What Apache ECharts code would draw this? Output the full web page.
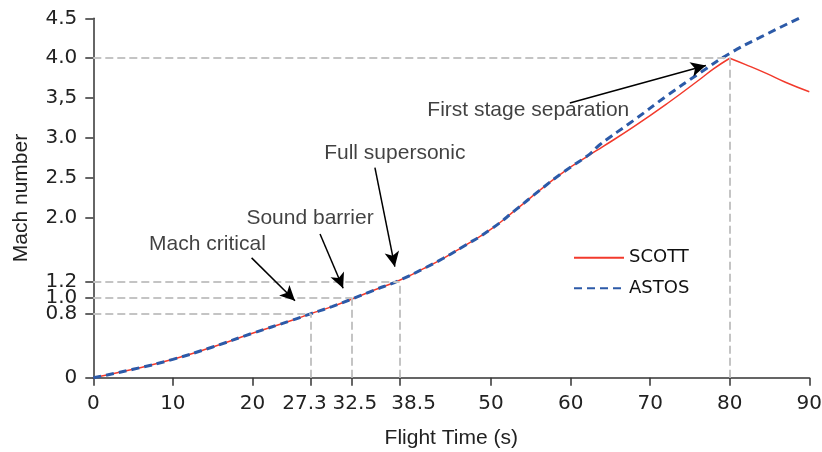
<!DOCTYPE html>
<html>
<head>
<meta charset="utf-8">
<script src="https://cdn.jsdelivr.net/npm/echarts@6/dist/echarts.min.js"></script>
<style>html,body{margin:0;padding:0;background:#fff;}#c{width:822px;height:452px;}</style>
</head>
<body>
<div id="c"></div>
<script>
// ---- data ----
const timeTicks = [0, 10, 20, 27.3, 32.5, 38.5, 50, 60, 70, 80, 90];
const machTicks = [0, 0.8, 1.0, 1.2, 2.0, 2.5, 3.0, 3.5, 4.0, 4.5];
const machTickLabels = ['0', '0.8', '1.0', '1.2', '2.0', '2.5', '3.0', '3,5', '4.0', '4.5'];

const scottTime = [0, 5, 10, 15, 20, 25, 27.3, 30, 32.5, 35, 38.5, 41.5, 44, 46.3, 50, 53.2, 56.1, 59.1, 62.4, 64, 67.9, 72.1, 76.3, 78, 80];
const scottMach = [0, 0.105, 0.23, 0.385, 0.556, 0.72, 0.8, 0.89, 0.985, 1.085, 1.22, 1.365, 1.495, 1.63, 1.86, 2.11, 2.345, 2.575, 2.79, 2.89, 3.14, 3.43, 3.74, 3.87, 4.0];
const scottAfterTime = [80, 82, 84.6, 87, 90];
const scottAfterMach = [4.0, 3.92, 3.81, 3.70, 3.58];

const astosTime = [0, 5, 10, 15, 20, 25, 27.3, 30, 32.5, 35, 38.5, 41.5, 44, 46.3, 50, 53.2, 56.1, 59.1, 62.4, 63.7, 67.9, 72.1, 76.3, 80, 83.8, 88.7];
const astosMach = [0, 0.105, 0.23, 0.385, 0.556, 0.72, 0.8, 0.89, 0.985, 1.085, 1.22, 1.365, 1.495, 1.63, 1.86, 2.11, 2.345, 2.575, 2.8, 2.92, 3.22, 3.53, 3.82, 4.06, 4.26, 4.5];

const guideTime = [27.3, 32.5, 38.5, 80];
const guideMach = [0.8, 1.0, 1.2, 4.0];

const noteText = ['Mach critical', 'Sound barrier', 'Full supersonic', 'First stage separation'];
const noteTime = [14.35, 27.24, 37.9, 54.68];
const noteMach = [1.67, 1.995, 2.816, 3.35];
const arrowFromTime = [19.9, 28.5, 35.4, 59.9];
const arrowFromMach = [1.50, 1.80, 2.63, 3.44];
const arrowToTime = [25.35, 31.4, 37.9, 77.0];
const arrowToMach = [0.964, 1.12, 1.39, 3.91];

// ---- chart ----
const zip = (a, b) => a.map((v, i) => [v, b[i]]);
const txtFont = 'Liberation Sans';
const tickFont = 'DejaVu Sans';

const xShift = {27.3: [0, 12, 0, 0], 32.5: [0, 0, 0, 6], 38.5: [0, 0, 0, 28]};
const xRich = {};
timeTicks.forEach((t, i) => {
  xRich['t' + i] = {fontFamily: tickFont, fontSize: 20, color: '#222', padding: xShift[t] || [0, 0, 0, 0]};
});

const guideSegs = [];
guideTime.forEach((t, i) => {
  guideSegs.push([{coord: [0, guideMach[i]]}, {coord: [t, guideMach[i]]}]);
  guideSegs.push([{coord: [t, 0]}, {coord: [t, guideMach[i]]}]);
});
const arrowSegs = noteText.map((_, i) => [
  {coord: [arrowFromTime[i], arrowFromMach[i]]},
  {coord: [arrowToTime[i], arrowToMach[i]]}
]);

const chart = echarts.init(document.getElementById('c'), null, {renderer: 'canvas'});
chart.setOption({
  animation: false,
  backgroundColor: '#fff',
  grid: {left: 93.3, right: 12.7, top: 18.3, bottom: 74.3, outerBoundsMode: 'none', containLabel: false},
  legend: {
    orient: 'vertical', left: 568, top: 243.7,
    itemWidth: 50, itemHeight: 14, itemGap: 12.6,
    data: ['SCOTT', 'ASTOS'],
    textStyle: {fontFamily: tickFont, fontSize: 18, lineHeight: 18, color: '#111', padding: [0, 0, 0, 0]},
    itemStyle: {opacity: 0}
  },
  xAxis: {
    type: 'value', min: 0, max: 90,
    name: 'Flight Time (s)', nameLocation: 'middle', nameGap: 50,
    nameTextStyle: {fontFamily: txtFont, fontSize: 21, color: '#222'},
    axisLine: {show: true, lineStyle: {color: '#333', width: 1.5}},
    axisTick: {show: true, customValues: timeTicks, length: 8, lineStyle: {color: '#333', width: 1.5}},
    axisLabel: {
      customValues: timeTicks, margin: 16,
      formatter: v => {
        const i = timeTicks.findIndex(t => Math.abs(t - v) < 1e-6);
        return '{t' + i + '|' + String(v) + '}';
      },
      rich: xRich
    },
    splitLine: {show: false}
  },
  yAxis: {
    type: 'value', min: 0, max: 4.5,
    name: 'Mach number', nameLocation: 'middle', nameGap: 62,
    nameTextStyle: {fontFamily: txtFont, fontSize: 21, color: '#222'},
    axisLine: {show: true, lineStyle: {color: '#333', width: 1.5}},
    axisTick: {show: true, customValues: machTicks, length: 8, lineStyle: {color: '#333', width: 1.5}},
    axisLabel: {
      customValues: machTicks, margin: 16,
      fontFamily: tickFont, fontSize: 20, color: '#222',
      formatter: v => {
        const i = machTicks.findIndex(t => Math.abs(t - v) < 1e-6);
        return i >= 0 ? machTickLabels[i] : '';
      }
    },
    splitLine: {show: false}
  },
  series: [
    {
      name: 'guides', type: 'line', data: [], silent: true,
      markLine: {
        silent: true, symbol: ['none', 'none'], label: {show: false},
        lineStyle: {color: '#c4c4c4', width: 2, type: [8, 4]},
        emphasis: {disabled: true},
        data: guideSegs
      },
      z: 1
    },
    {
      name: 'SCOTT', type: 'line', data: zip(scottTime, scottMach),
      smooth: 0.5, symbol: 'none', lineStyle: {color: '#f23a2c', width: 1.5}, itemStyle: {color: '#f23a2c'}, z: 3
    },
    {
      name: 'SCOTT', type: 'line', data: zip(scottAfterTime, scottAfterMach),
      smooth: 0.5, symbol: 'none', lineStyle: {color: '#f23a2c', width: 1.5}, itemStyle: {color: '#f23a2c'}, z: 3
    },
    {
      name: 'ASTOS', type: 'line', data: zip(astosTime, astosMach),
      smooth: 0.5, symbol: 'none', lineStyle: {color: '#2c5aa8', width: 3, type: [8, 5]}, itemStyle: {color: '#2c5aa8'}, z: 4
    },
    {
      name: 'arrows', type: 'line', data: [], silent: true,
      markLine: {
        silent: true, symbol: ['none', 'arrow'], symbolSize: [11, 15], label: {show: false},
        lineStyle: {color: '#000', width: 1.5, type: 'solid'},
        itemStyle: {color: '#000'},
        emphasis: {disabled: true},
        data: arrowSegs
      },
      z: 5
    },
    {
      name: 'notes', type: 'scatter', symbolSize: 0, silent: true,
      data: noteText.map((t, i) => ({name: t, value: [noteTime[i], noteMach[i]]})),
      label: {show: true, position: 'inside', formatter: p => p.name, fontFamily: txtFont, fontSize: 21, color: '#111'},
      z: 6
    }
  ]
});
</script>
</body>
</html>
